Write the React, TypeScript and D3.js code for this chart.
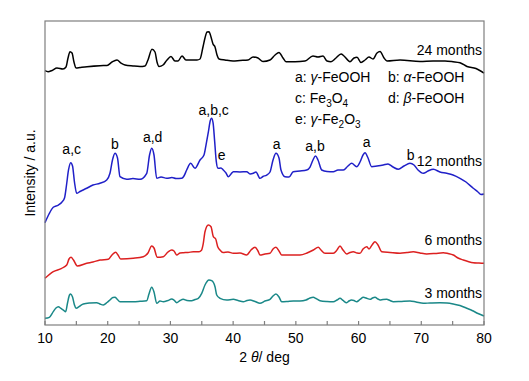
import React from "react";
import * as d3 from "d3";

// 2θ (deg), intensity (a.u., arbitrary 0–100 frame units)
const months24: [number, number][] = [
  [10.0, 83.65], [10.48, 83.32], [11.12, 83.72], [11.91, 84.54], [12.87, 84.21], [13.35, 84.87],
  [13.67, 87.83], [13.99, 89.9], [14.31, 89.47], [14.62, 86.51], [14.94, 84.54], [15.58, 84.7],
  [16.7, 84.97], [18.77, 85.3], [19.89, 85.36], [20.68, 86.51], [21.48, 87.17], [22.12, 86.18],
  [22.76, 85.53], [24.03, 85.2], [25.15, 85.03], [25.95, 85.2], [26.42, 87.17], [27.06, 90.69],
  [27.54, 89.8], [27.86, 86.51], [28.18, 85.03], [28.82, 85.53], [29.45, 87.17], [30.09, 88.32],
  [30.73, 86.84], [31.21, 86.84], [31.85, 88.49], [32.48, 87.17], [33.12, 87.17], [34.24, 87.17],
  [34.72, 87.5], [35.19, 91.45], [35.51, 94.41], [35.83, 96.38], [36.15, 96.48], [36.47, 94.74],
  [36.79, 92.43], [37.11, 91.45], [37.43, 88.82], [37.75, 87.5], [38.7, 87.17], [39.98, 86.84],
  [41.09, 87.01], [42.37, 87.17], [43.17, 88.16], [43.96, 87.83], [44.76, 86.68], [45.88, 87.17],
  [46.68, 88.82], [47.31, 89.64], [47.95, 87.83], [48.43, 86.61], [49.86, 86.61], [51.46, 86.84],
  [52.73, 88.49], [53.53, 88.16], [54.33, 88.49], [54.97, 86.84], [55.6, 86.61], [56.4, 87.83],
  [57.2, 89.14], [57.68, 88.49], [58.63, 86.61], [59.27, 87.83], [59.75, 88.06], [60.39, 86.35],
  [61.03, 87.17], [61.66, 88.16], [62.3, 87.5], [62.94, 89.47], [63.42, 89.97], [64.06, 87.83],
  [64.53, 86.84], [66.61, 87.17], [69.8, 86.68], [71.87, 86.84], [73.78, 86.84], [75.06, 86.61],
  [76.17, 86.28], [77.29, 85.03], [78.72, 84.38], [80.0, 82.89],
];

const months12: [number, number][] = [
  [10.0, 33.65], [10.64, 36.51], [11.32, 38.72], [12.12, 39.47], [12.71, 40.46], [13.11, 41.78],
  [13.43, 46.05], [13.75, 50.99], [14.1, 53.39], [14.39, 52.3], [14.7, 47.04], [15.05, 43.32],
  [15.58, 43.91], [16.65, 44.97], [17.65, 46.05], [18.77, 46.61], [19.84, 47.7], [20.36, 49.9],
  [20.76, 54.28], [21.16, 56.48], [21.56, 54.93], [21.96, 48.78], [23.03, 47.93], [24.03, 48.19],
  [25.15, 47.93], [26.22, 49.9], [26.67, 55.92], [27.01, 58.13], [27.38, 55.92], [27.81, 48.26],
  [28.5, 48.68], [29.41, 48.26], [30.25, 48.52], [30.89, 48.19], [31.8, 48.26], [32.16, 49.01],
  [32.59, 50.99], [33.23, 53.19], [33.92, 51.55], [34.72, 54.28], [35.35, 55.92], [35.7, 59.5],
  [36.05, 63.5], [36.35, 67.2], [36.55, 68.0], [36.8, 66.5], [37.05, 60.5], [37.3, 54.0],
  [37.59, 51.55], [38.06, 51.64], [38.43, 50.99], [38.86, 50.0], [39.23, 48.78], [39.66, 49.67],
  [40.03, 50.43], [41.09, 50.33], [42.16, 50.43], [42.69, 49.67], [43.22, 49.9], [43.64, 50.33],
  [44.28, 48.26], [44.76, 48.85], [45.35, 49.34], [45.88, 50.33], [46.36, 54.28], [46.83, 56.48],
  [47.31, 54.93], [47.63, 50.99], [48.27, 48.78], [48.91, 48.68], [49.59, 50.43], [50.66, 50.66],
  [51.73, 50.99], [52.26, 51.97], [52.73, 54.28], [53.13, 55.59], [53.53, 54.28], [54.12, 50.99],
  [54.97, 50.49], [55.97, 50.43], [56.72, 50.99], [57.57, 50.99], [58.31, 52.3], [58.9, 53.19],
  [59.7, 52.07], [60.23, 53.62], [60.71, 55.92], [61.03, 56.68], [61.51, 54.93], [62.09, 52.07],
  [62.94, 52.3], [63.94, 52.63], [64.69, 52.96], [65.49, 51.97], [66.34, 51.22], [67.24, 52.3],
  [68.2, 53.19], [68.84, 52.63], [69.48, 50.99], [70.32, 49.9], [71.07, 50.66], [71.92, 51.22],
  [72.98, 50.33], [74.05, 49.9], [75.06, 49.34], [76.17, 48.26], [77.13, 47.04], [78.29, 44.97],
  [79.04, 43.75], [79.52, 42.93], [80.0, 43.09],
];

const months6: [number, number][] = [
  [10.0, 15.36], [11.32, 17.53], [12.66, 18.65], [13.46, 19.74], [13.83, 21.71], [14.15, 22.27],
  [14.54, 21.38], [15.15, 19.41], [16.65, 20.3], [17.65, 20.72], [18.77, 21.38], [20.09, 21.61],
  [20.68, 23.03], [21.27, 23.91], [21.64, 23.03], [22.07, 21.71], [24.08, 21.94], [25.67, 22.47],
  [26.42, 23.68], [27.01, 25.99], [27.38, 25.33], [27.91, 22.27], [28.86, 22.47], [29.61, 24.01],
  [30.2, 24.67], [30.57, 24.34], [31.0, 23.03], [31.53, 23.68], [32.05, 23.78], [32.8, 23.85],
  [33.65, 24.11], [34.56, 24.11], [34.95, 24.6], [35.24, 26.88], [35.51, 30.69], [36.04, 32.89],
  [36.47, 32.34], [36.84, 29.05], [37.22, 28.29], [37.54, 25.76], [37.9, 24.67], [38.38, 23.85],
  [39.18, 24.01], [40.03, 23.59], [41.09, 23.68], [42.16, 23.03], [42.85, 24.67], [43.49, 25.56],
  [43.96, 24.34], [44.28, 23.03], [45.07, 23.36], [45.88, 23.59], [46.36, 25.0], [46.83, 25.56],
  [47.31, 24.34], [47.74, 23.03], [49.07, 23.03], [50.66, 23.03], [51.78, 23.68], [52.78, 24.67],
  [53.58, 25.56], [54.01, 24.67], [54.65, 23.59], [55.97, 23.59], [56.56, 24.67], [57.04, 25.99],
  [57.52, 24.67], [58.11, 23.36], [58.63, 23.85], [59.16, 24.11], [59.75, 23.68], [60.23, 23.59],
  [60.71, 25.0], [61.3, 25.76], [61.67, 25.0], [62.15, 26.32], [62.62, 27.4], [63.1, 26.32],
  [63.69, 24.11], [65.01, 23.85], [66.61, 23.59], [67.72, 23.85], [68.73, 24.11], [69.8, 23.68],
  [70.86, 23.36], [72.19, 23.52], [73.51, 23.78], [74.26, 23.52], [75.11, 23.03], [75.86, 22.04],
  [76.7, 21.38], [77.45, 20.89], [78.29, 20.49], [79.2, 20.39], [80.0, 20.3],
];

const months3: [number, number][] = [
  [10.0, 2.2], [10.69, 2.53], [11.32, 4.38], [11.75, 5.59], [12.12, 6.02], [12.55, 5.43],
  [12.92, 4.93], [13.3, 4.38], [13.59, 7.24], [13.91, 9.87], [14.1, 10.2], [14.39, 9.21],
  [14.7, 6.58], [14.94, 5.49], [15.58, 6.25], [16.11, 6.91], [17.18, 7.24], [18.24, 7.34],
  [18.77, 6.91], [19.3, 6.58], [19.89, 7.4], [20.36, 8.22], [20.84, 9.05], [21.16, 9.11],
  [21.48, 8.55], [21.96, 7.66], [23.07, 7.66], [24.08, 7.66], [25.15, 7.8], [26.22, 7.99],
  [26.58, 10.2], [27.01, 12.4], [27.38, 10.86], [27.81, 7.14], [28.34, 7.89], [28.86, 7.66],
  [29.61, 8.06], [30.2, 8.55], [30.57, 8.22], [31.0, 7.34], [31.53, 8.06], [32.05, 8.45],
  [32.64, 8.06], [33.39, 7.99], [33.92, 8.39], [34.44, 8.78], [34.99, 10.43], [35.51, 13.16],
  [36.15, 14.8], [36.58, 14.57], [37.11, 12.6], [37.38, 9.87], [37.91, 8.78], [38.97, 8.22],
  [40.03, 8.45], [40.78, 8.06], [41.62, 7.66], [42.21, 8.06], [42.69, 8.22], [43.49, 7.73],
  [44.28, 7.14], [45.07, 7.89], [45.88, 8.45], [46.36, 9.54], [46.83, 10.2], [47.31, 9.21],
  [47.74, 7.66], [48.59, 7.73], [49.59, 7.89], [50.66, 7.89], [51.62, 8.22], [52.26, 8.88],
  [52.78, 9.11], [53.21, 8.72], [53.85, 7.99], [54.97, 7.73], [55.97, 7.66], [56.56, 8.22],
  [57.04, 8.78], [57.52, 8.06], [58.11, 7.34], [58.47, 7.89], [58.9, 8.22], [59.27, 8.06],
  [59.7, 7.66], [60.23, 8.39], [60.76, 9.11], [61.19, 8.88], [61.86, 8.45], [62.22, 8.88],
  [62.62, 9.11], [63.1, 8.55], [63.42, 8.22], [63.9, 8.39], [64.48, 8.45], [65.01, 8.06],
  [65.54, 7.66], [66.61, 7.73], [68.2, 7.89], [69.16, 7.57], [70.32, 7.14], [71.39, 7.24],
  [72.98, 7.34], [74.1, 7.24], [75.11, 6.91], [76.17, 6.41], [77.24, 5.49], [78.09, 4.77],
  [79.04, 3.78], [80.0, 2.96],
];

const seriesNames = ["24 months", "12 months", "6 months", "3 months"];
const seriesColors = ["#000000", "#2020c8", "#dc2020", "#1a8888"];
const seriesData = [months24, months12, months6, months3];
// label anchor (2θ, intensity) for each series name
const seriesLabelPos: [number, number][] = [[79.7, 88.8], [79.7, 52.2], [79.7, 26.3], [79.7, 9.0]];

// phase marks on the 12-month pattern
const peakLabels = ["a,c", "b", "a,d", "a,b,c", "e", "a", "a,b", "a", "b"];
const peakLabelPos: [number, number][] = [
  [14.26, 56.3], [21.16, 57.9], [27.17, 60.2], [36.9, 69.1], [38.18, 54.3],
  [46.95, 57.9], [53.05, 57.2], [61.3, 58.5], [68.31, 54.3],
];

const xTicksMajor = [10, 20, 30, 40, 50, 60, 70, 80];
const xTicksMinor = [15, 25, 35, 45, 55, 65, 75];

const W = 529;
const H = 381;
const M = { left: 45, right: 484, top: 21, bottom: 325 };
const FONT = "'Liberation Sans', Arial, sans-serif";
const AXIS = "#7f7f7f";

export default function App() {
  const x = d3.scaleLinear().domain([10, 80]).range([M.left, M.right]);
  const y = d3.scaleLinear().domain([0, 100]).range([M.bottom, M.top]);
  const line = d3
    .line<[number, number]>()
    .x((d) => x(d[0]))
    .y((d) => y(d[1]))
    .curve(d3.curveMonotoneX);

  const sub = { fontSize: 10 };

  return (
    <svg
      width={W}
      height={H}
      style={{ position: "absolute", left: 0, top: 0, background: "#fff" }}
      fontFamily={FONT}
    >
      <rect x={0} y={0} width={W} height={H} fill="#fff" />
      {seriesData.map((d, i) => (
        <path key={i} d={line(d) || ""} fill="none" stroke={seriesColors[i]} strokeWidth={1.5} strokeLinejoin="round" />
      ))}
      {/* frame */}
      <rect
        x={M.left}
        y={M.top}
        width={M.right - M.left}
        height={M.bottom - M.top}
        fill="none"
        stroke={AXIS}
        strokeWidth={1.2}
      />
      {/* ticks */}
      {[...xTicksMajor, ...xTicksMinor].map((t) => (
        <line key={"t" + t} x1={x(t)} x2={x(t)} y1={M.bottom} y2={M.bottom - 4} stroke={AXIS} strokeWidth={1.2} />
      ))}
      {xTicksMajor.map((t) => (
        <text key={"l" + t} x={x(t)} y={343} textAnchor="middle" fontSize={14} fill="#000">
          {t}
        </text>
      ))}
      <text x={(M.left + M.right) / 2} y={362} textAnchor="middle" fontSize={14} fill="#000">
        2 <tspan fontStyle="italic">θ</tspan>/ deg
      </text>
      <text
        transform={`translate(35,${(M.top + M.bottom) / 2}) rotate(-90)`}
        textAnchor="middle"
        fontSize={14}
        fill="#000"
      >
        Intensity / a.u.
      </text>
      {/* series labels */}
      {seriesNames.map((n, i) => (
        <text key={n} x={x(seriesLabelPos[i][0])} y={y(seriesLabelPos[i][1])} textAnchor="end" fontSize={14} fill="#000">
          {n}
        </text>
      ))}
      {/* peak labels */}
      {peakLabels.map((p, i) => (
        <text key={"p" + i} x={x(peakLabelPos[i][0])} y={y(peakLabelPos[i][1])} textAnchor="middle" fontSize={14} fill="#000">
          {p}
        </text>
      ))}
      {/* phase legend */}
      <g fontSize={14} fill="#000">
        <text x={295} y={82}>
          a: <tspan fontStyle="italic">γ</tspan>-FeOOH
        </text>
        <text x={388} y={82}>
          b: <tspan fontStyle="italic">α</tspan>-FeOOH
        </text>
        <text x={295} y={103}>
          c: Fe<tspan {...sub} dy={4}>3</tspan>
          <tspan dy={-4}>O</tspan>
          <tspan {...sub} dy={4}>4</tspan>
        </text>
        <text x={388} y={103}>
          d: <tspan fontStyle="italic">β</tspan>-FeOOH
        </text>
        <text x={295} y={124}>
          e: <tspan fontStyle="italic">γ</tspan>-Fe<tspan {...sub} dy={4}>2</tspan>
          <tspan dy={-4}>O</tspan>
          <tspan {...sub} dy={4}>3</tspan>
        </text>
      </g>
    </svg>
  );
}
